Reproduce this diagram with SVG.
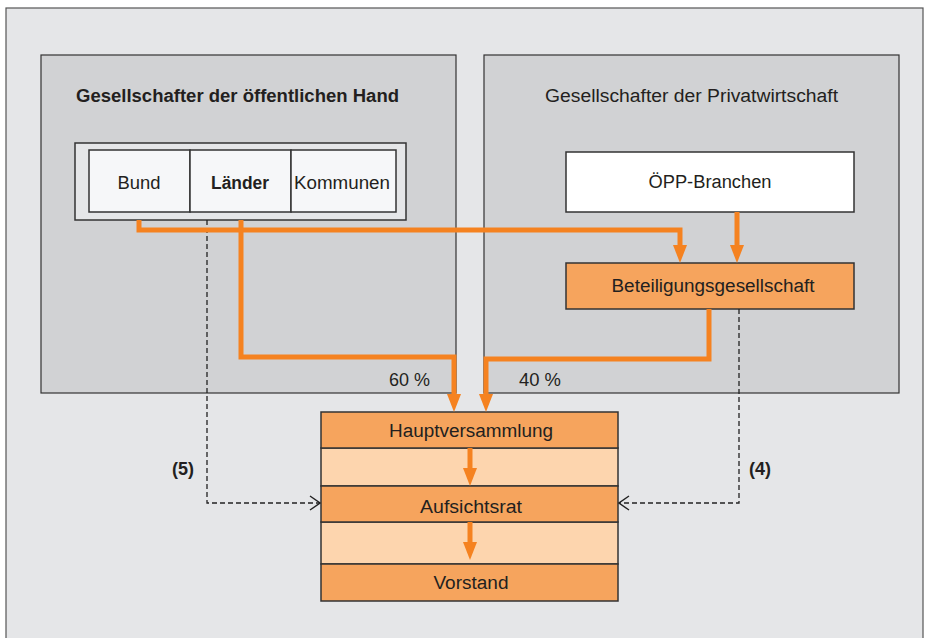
<svg xmlns="http://www.w3.org/2000/svg" width="929" height="638" viewBox="0 0 929 638">
<style>
text{font-family:"Liberation Sans","Open Sans",sans-serif;fill:#231f20;font-size:18px}
.b{font-weight:bold}
.m{text-anchor:middle}
.panel{fill:#d1d2d4;stroke:#333;stroke-width:1.2}
.box{stroke:#333;stroke-width:1.5}
.or{fill:none;stroke:#f58220;stroke-width:5;stroke-linejoin:miter}
.dash{fill:none;stroke:#222;stroke-width:1.3;stroke-dasharray:5 3}
</style>
<defs>
<marker id="ah" viewBox="0 0 18 14" markerWidth="18" markerHeight="14" refX="0" refY="7" orient="auto" markerUnits="userSpaceOnUse">
<path d="M0,0 L18,7 L0,14 z" fill="#f58220"/>
</marker>
<marker id="oh" viewBox="0 0 12 16" markerWidth="12" markerHeight="16" refX="11" refY="8" orient="auto" markerUnits="userSpaceOnUse">
<path d="M1,1 L11,8 L1,15" fill="none" stroke="#222" stroke-width="1.4"/>
</marker>
</defs>
<rect x="6" y="8" width="917" height="640" fill="#e5e6e8" stroke="#555" stroke-width="1.2"/>
<g id="panel-public">
<rect class="panel" x="41" y="55" width="415" height="338"/>
<text class="b" x="76" y="102" textLength="323" lengthAdjust="spacingAndGlyphs">Gesellschafter der öffentlichen Hand</text>
</g>
<g id="panel-private">
<rect class="panel" x="484" y="55" width="415" height="338"/>
<text x="545" y="102" textLength="293" lengthAdjust="spacingAndGlyphs">Gesellschafter der Privatwirtschaft</text>
</g>
<g id="public-group">
<rect x="75" y="143" width="331" height="77" fill="#e5e6e8" stroke="#333" stroke-width="1.5"/>
</g>
<g id="bund">
<rect class="box" x="89" y="150" width="101" height="62" fill="#f6f7f9"/>
<text class="m" x="139" y="189" textLength="43" lengthAdjust="spacingAndGlyphs">Bund</text>
</g>
<g id="laender">
<rect class="box" x="190" y="150" width="101" height="62" fill="#f6f7f9"/>
<text class="m b" x="240" y="189" textLength="58" lengthAdjust="spacingAndGlyphs">Länder</text>
</g>
<g id="kommunen">
<rect class="box" x="291" y="150" width="105" height="62" fill="#f6f7f9"/>
<text class="m" x="342" y="189" textLength="96" lengthAdjust="spacingAndGlyphs">Kommunen</text>
</g>
<g id="oepp">
<rect class="box" x="566" y="152" width="288" height="60" fill="#ffffff"/>
<text class="m" x="710" y="188" textLength="123" lengthAdjust="spacingAndGlyphs">ÖPP-Branchen</text>
</g>
<g id="beteiligung">
<rect class="box" x="566" y="263" width="288" height="46" fill="#f6a45d"/>
<text class="m" x="713" y="292" textLength="203" lengthAdjust="spacingAndGlyphs">Beteiligungsgesellschaft</text>
</g>
<g id="ag">
<rect x="321" y="448" width="297" height="38" fill="#fdd5ae" stroke="#333" stroke-width="1.5"/>
<rect x="321" y="522" width="297" height="42" fill="#fdd5ae" stroke="#333" stroke-width="1.5"/>
</g>
<g id="hauptversammlung">
<rect class="box" x="321" y="412" width="297" height="36" fill="#f6a45d"/>
<text class="m" x="471" y="437" textLength="164" lengthAdjust="spacingAndGlyphs">Hauptversammlung</text>
</g>
<g id="aufsichtsrat">
<rect class="box" x="321" y="486" width="297" height="36" fill="#f6a45d"/>
<text class="m" x="471" y="513" textLength="102" lengthAdjust="spacingAndGlyphs">Aufsichtsrat</text>
</g>
<g id="vorstand">
<rect class="box" x="321" y="564" width="297" height="37" fill="#f6a45d"/>
<text class="m" x="471" y="589" textLength="75" lengthAdjust="spacingAndGlyphs">Vorstand</text>
</g>
<g id="connectors">
<path class="dash" d="M207,220 V503 H320" marker-end="url(#oh)"/>
<path class="dash" d="M739,309 V503 H619" marker-end="url(#oh)"/>
<path class="or" d="M139,220 V230 H680 V245" marker-end="url(#ah)"/>
<path class="or" d="M241,220 V357 H454 V394" marker-end="url(#ah)"/>
<path class="or" d="M737,212 V245" marker-end="url(#ah)"/>
<path class="or" d="M709,309 V359 H486 V394" marker-end="url(#ah)"/>
<path class="or" d="M470,448 V468" marker-end="url(#ah)"/>
<path class="or" d="M470,522 V542" marker-end="url(#ah)"/>
<text x="389" y="386" textLength="41" lengthAdjust="spacingAndGlyphs">60 %</text>
<text x="519" y="386" textLength="42" lengthAdjust="spacingAndGlyphs">40 %</text>
<text class="m b" x="183" y="475" textLength="22" lengthAdjust="spacingAndGlyphs">(5)</text>
<text class="m b" x="760" y="475" textLength="22" lengthAdjust="spacingAndGlyphs">(4)</text>
</g>
</svg>
